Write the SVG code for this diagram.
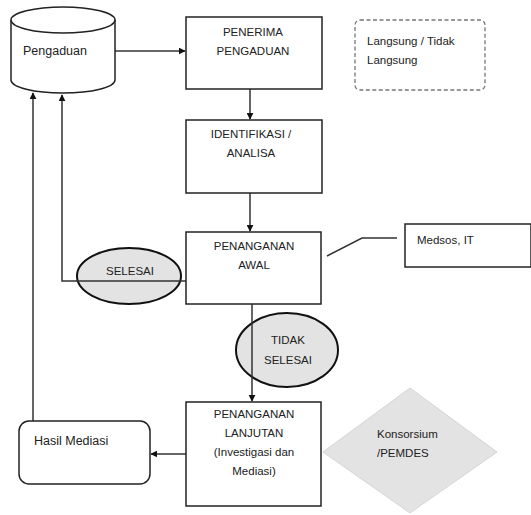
<svg xmlns="http://www.w3.org/2000/svg" width="531" height="515" viewBox="0 0 531 515">
<defs>
<style>
.box{fill:#fff;stroke:#222;stroke-width:1.5}
.t{font-family:"Liberation Sans",Arial,sans-serif;font-size:11.5px;fill:#222}
.c{text-anchor:middle}
.ln{fill:none;stroke:#333;stroke-width:1.5}
.ell{fill:#e3e3e3;stroke:#111;stroke-width:2}
</style>
<marker id="ah" viewBox="0 0 10 10" refX="9" refY="5" markerWidth="7" markerHeight="7" orient="auto" markerUnits="userSpaceOnUse">
<path d="M0,0 L10,5 L0,10 z" fill="#111"/>
</marker>
</defs>
<rect width="531" height="515" fill="#fff"/>

<g id="connectors">
<line class="ln" x1="115" y1="51" x2="185" y2="51" marker-end="url(#ah)"/>
<line class="ln" x1="250" y1="89" x2="250" y2="119" marker-end="url(#ah)"/>
<line class="ln" x1="250" y1="193" x2="250" y2="231" marker-end="url(#ah)"/>
<polyline class="ln" points="186,281 62,281 62,95" marker-end="url(#ah)"/>
<polyline class="ln" points="33,422 33,93" marker-end="url(#ah)"/>
<polyline class="ln" points="327,256 362,238 397,238"/>
<line class="ln" x1="186" y1="454" x2="151" y2="454" marker-end="url(#ah)"/>
</g>

<g id="pengaduan">
<path class="box" d="M11,20 V80 A52,13 0 0 0 115,80 V20"/>
<ellipse class="box" cx="63" cy="20" rx="52" ry="13"/>
<text class="t" x="23" y="55" style="font-size:12.5px">Pengaduan</text>
</g>

<g id="penerima">
<rect class="box" x="186" y="17" width="136" height="72"/>
<text class="t c" x="253" y="36">PENERIMA</text>
<text class="t c" x="253" y="55">PENGADUAN</text>
</g>

<g id="langsung">
<rect x="355" y="20" width="130" height="70" rx="5" fill="none" stroke="#777" stroke-width="1.3" stroke-dasharray="4,2.5"/>
<text class="t" x="367" y="45">Langsung / Tidak</text>
<text class="t" x="367" y="64">Langsung</text>
</g>

<g id="identifikasi">
<rect class="box" x="186" y="120" width="136" height="73"/>
<text class="t c" x="251" y="138">IDENTIFIKASI /</text>
<text class="t c" x="251" y="157">ANALISA</text>
</g>

<g id="penanganan-awal">
<rect class="box" x="186" y="232" width="135" height="72"/>
<text class="t c" x="254" y="250">PENANGANAN</text>
<text class="t c" x="254" y="269">AWAL</text>
</g>

<g id="selesai">
<ellipse class="ell" cx="129" cy="276" rx="52" ry="28"/>
<line class="ln" x1="77" y1="281" x2="181" y2="281"/>
<text class="t c" x="130" y="275">SELESAI</text>
</g>

<g id="medsos">
<rect class="box" x="405" y="224" width="126" height="43"/>
<text class="t" x="417" y="244">Medsos, IT</text>
</g>

<g id="tidak-selesai">
<ellipse class="ell" cx="287" cy="350" rx="51" ry="37"/>
<text class="t c" x="288" y="344">TIDAK</text>
<text class="t c" x="288" y="364">SELESAI</text>
<line class="ln" x1="252" y1="304" x2="252" y2="401" marker-end="url(#ah)"/>
</g>

<g id="penanganan-lanjutan">
<rect class="box" x="186" y="402" width="135" height="104"/>
<text class="t c" x="254" y="418">PENANGANAN</text>
<text class="t c" x="254" y="437">LANJUTAN</text>
<text class="t c" x="254" y="456">(Investigasi dan</text>
<text class="t c" x="254" y="475">Mediasi)</text>
</g>

<g id="hasil-mediasi">
<rect class="box" x="19" y="421" width="131" height="63" rx="10"/>
<text class="t" x="34" y="445" style="font-size:12.5px">Hasil Mediasi</text>
</g>

<g id="konsorsium">
<polygon points="323,452 410,388 497,452 410,513" fill="#e3e3e3" stroke="#d5d5d5" stroke-width="1"/>
<text class="t" x="377" y="438">Konsorsium</text>
<text class="t" x="377" y="457">/PEMDES</text>
</g>
</svg>
